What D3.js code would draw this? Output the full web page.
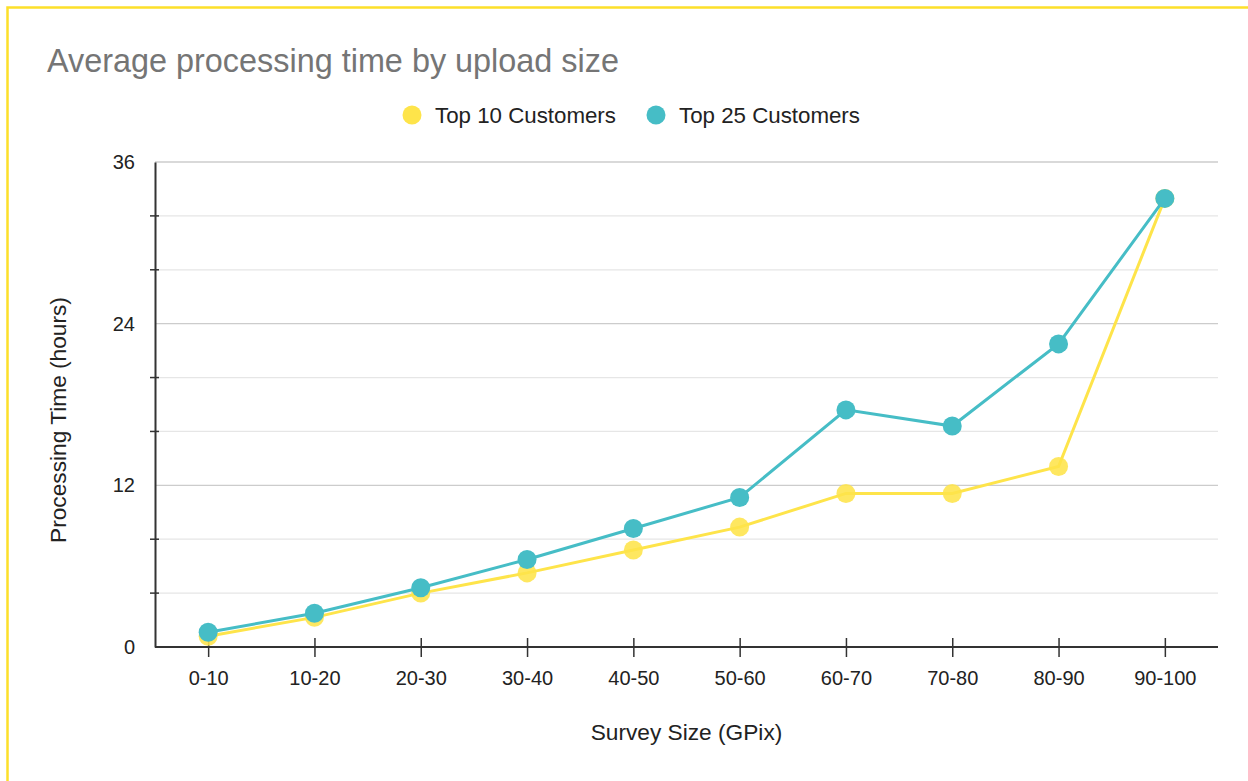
<!DOCTYPE html>
<html>
<head>
<meta charset="utf-8">
<script src="https://cdn.jsdelivr.net/npm/d3@7"></script>
<style>
  body { margin: 0; background: #fff; }
  svg { font-family: "Liberation Sans", Arial, sans-serif; }
</style>
</head>
<body>
<div id="chart"></div>
<script>
var categories = ["0-10", "10-20", "20-30", "30-40", "40-50", "50-60", "60-70", "70-80", "80-90", "90-100"];
var top10 = [0.8, 2.2, 4.0, 5.5, 7.2, 8.9, 11.4, 11.4, 13.4, 33.3];
var top25 = [1.1, 2.5, 4.4, 6.5, 8.8, 11.1, 17.6, 16.4, 22.5, 33.3];
var yTicks = [0, 12, 24, 36];
var yMinor = [4, 8, 16, 20, 28, 32];

var width = 1248, height = 781;
var margin = {left: 155, right: 30, top: 162, bottom: 134};

var svg = d3.select("#chart")
    .append("svg")
    .attr("width", width)
    .attr("height", height);

// yellow frame (right and bottom fall outside the picture)
svg.append("rect")
    .attr("x", 7.5).attr("y", 7.5)
    .attr("width", width + 20).attr("height", height + 20)
    .attr("fill", "none")
    .attr("stroke", "#fde02a")
    .attr("stroke-width", 2.5);

var x = d3.scalePoint()
    .domain(categories)
    .range([margin.left, width - margin.right])
    .padding(0.5);

var y = d3.scaleLinear()
    .domain([0, 36])
    .range([height - margin.bottom, margin.top]);

// title
svg.append("text")
    .attr("x", 47).attr("y", 72)
    .attr("fill", "#757575")
    .style("font-size", "32.4px")
    .text("Average processing time by upload size");

// legend
var legend = [
    {name: "Top 10 Customers", color: "#fee44a", cx: 412},
    {name: "Top 25 Customers", color: "#46bdc6", cx: 656}
];
var lg = svg.selectAll(".legend")
    .data(legend)
    .enter()
    .append("g")
    .attr("class", "legend");
lg.append("circle")
    .attr("cx", function(d){ return d.cx; })
    .attr("cy", 115)
    .attr("r", 9.5)
    .attr("fill", function(d){ return d.color; });
lg.append("text")
    .attr("x", function(d){ return d.cx + 23; })
    .attr("y", 123)
    .attr("fill", "#222")
    .style("font-size", "22.3px")
    .text(function(d){ return d.name; });

// gridlines
svg.append("g")
    .selectAll("line")
    .data(yMinor)
    .enter()
    .append("line")
    .attr("x1", margin.left).attr("x2", width - margin.right)
    .attr("y1", function(d){ return y(d); })
    .attr("y2", function(d){ return y(d); })
    .attr("stroke", "#e6e6e6")
    .attr("stroke-width", 1.3);

svg.append("g")
    .selectAll("line")
    .data(yTicks.slice(1))
    .enter()
    .append("line")
    .attr("x1", margin.left).attr("x2", width - margin.right)
    .attr("y1", function(d){ return y(d); })
    .attr("y2", function(d){ return y(d); })
    .attr("stroke", "#cccccc")
    .attr("stroke-width", 1.3);

// y axis: labels on major values, small crossing ticks on minor ones
var yAxis = d3.axisLeft(y)
    .tickValues(yTicks)
    .tickSize(0)
    .tickPadding(20);

var ya = svg.append("g")
    .attr("transform", "translate(" + margin.left + ",0)")
    .call(yAxis);
ya.select(".domain").attr("stroke", "#333").attr("stroke-width", 2);
ya.selectAll("text")
    .attr("fill", "#222")
    .style("font-size", "20px")
    .style("font-family", "Liberation Sans, Arial, sans-serif");

ya.selectAll(".minor")
    .data(yMinor)
    .enter()
    .append("line")
    .attr("class", "minor")
    .attr("x1", -5).attr("x2", 4)
    .attr("y1", function(d){ return y(d); })
    .attr("y2", function(d){ return y(d); })
    .attr("stroke", "#333")
    .attr("stroke-width", 1.5);

// x axis
var xAxis = d3.axisBottom(x)
    .tickSizeInner(10)
    .tickSizeOuter(0)
    .tickPadding(14);

var xa = svg.append("g")
    .attr("transform", "translate(0," + y(0) + ")")
    .call(xAxis);
xa.select(".domain")
    .attr("d", "M" + margin.left + ",0H" + (width - margin.right))
    .attr("stroke", "#333").attr("stroke-width", 2);
xa.selectAll(".tick line")
    .attr("y1", -9)
    .attr("stroke", "#333")
    .attr("stroke-width", 1.5);
xa.selectAll("text")
    .attr("fill", "#222")
    .style("font-size", "20px")
    .style("font-family", "Liberation Sans, Arial, sans-serif");

// axis titles
svg.append("text")
    .attr("transform", "translate(66,420) rotate(-90)")
    .attr("text-anchor", "middle")
    .attr("fill", "#222")
    .style("font-size", "22.7px")
    .text("Processing Time (hours)");

svg.append("text")
    .attr("x", (margin.left + width - margin.right) / 2)
    .attr("y", 740)
    .attr("text-anchor", "middle")
    .attr("fill", "#222")
    .style("font-size", "22.7px")
    .text("Survey Size (GPix)");

// series
var series = [
    {values: top10, color: "#fee44a", dotOpacity: 0.88},
    {values: top25, color: "#46bdc6", dotOpacity: 1}
];

var line = d3.line()
    .x(function(d, i){ return x(categories[i]); })
    .y(function(d){ return y(d); });

series.forEach(function(s){
    var g = svg.append("g");
    g.append("path")
        .datum(s.values)
        .attr("d", line)
        .attr("fill", "none")
        .attr("stroke", s.color)
        .attr("stroke-width", 3);
    g.selectAll("circle")
        .data(s.values)
        .enter()
        .append("circle")
        .attr("cx", function(d, i){ return x(categories[i]); })
        .attr("cy", function(d){ return y(d); })
        .attr("r", 9.5)
        .attr("fill", s.color)
        .attr("fill-opacity", s.dotOpacity);
});
</script>
</body>
</html>
